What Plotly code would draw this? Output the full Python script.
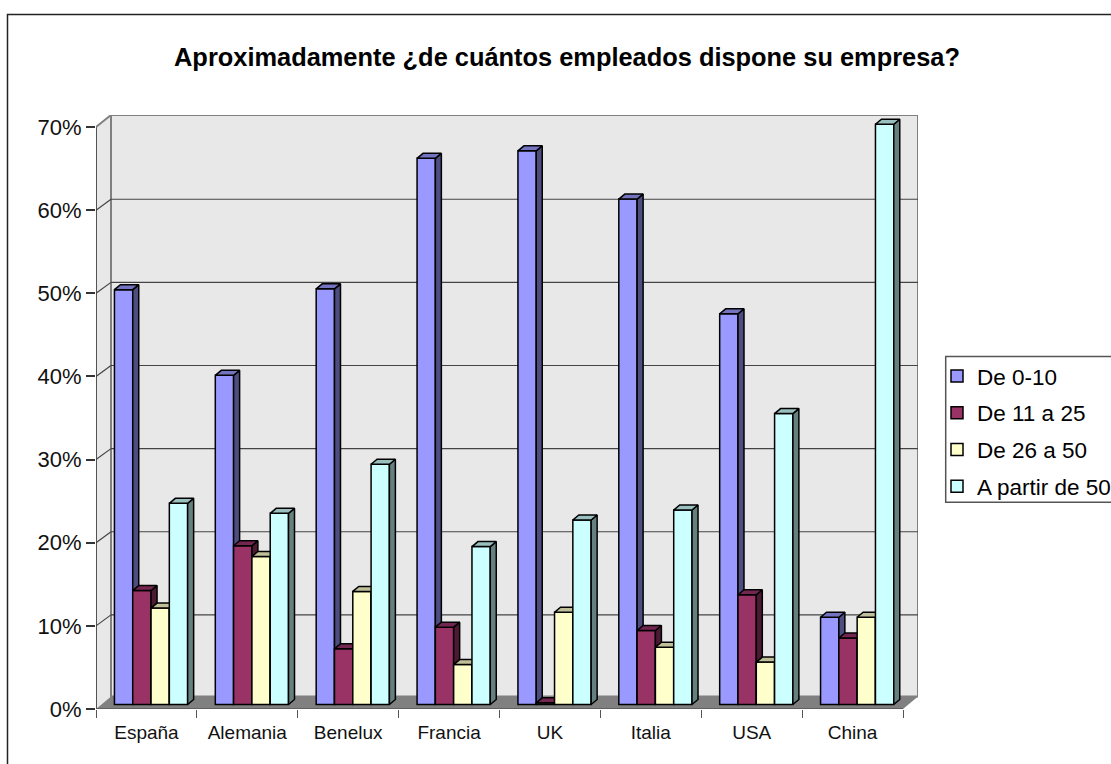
import plotly.graph_objects as go

categories = ['España', 'Alemania', 'Benelux', 'Francia', 'UK', 'Italia', 'USA', 'China']
series_names = ['De 0-10', 'De 11 a 25', 'De 26 a 50', 'A partir de 50']
de_0_10 = [49.9, 39.6, 50.0, 65.7, 66.6, 60.8, 47.0, 10.5]
de_11_25 = [13.7, 19.1, 6.7, 9.3, 0.2, 8.9, 13.2, 8.0]
de_26_50 = [11.6, 17.8, 13.6, 4.8, 11.1, 6.9, 5.1, 10.5]
a_partir_50 = [24.2, 23.0, 28.9, 19.0, 22.2, 23.4, 35.0, 69.8]
y_ticks = [0, 10, 20, 30, 40, 50, 60, 70]

series_values = [de_0_10, de_11_25, de_26_50, a_partir_50]
front_colors = ['#9999FF', '#993366', '#FFFFCC', '#CCFFFF']
side_colors = ['#4D4D80', '#4D1A33', '#808066', '#668080']
top_colors = ['#7373BF', '#732650', '#BFBF99', '#99BFBF']

# plot area in pixels of the 1111x764 page
W, H = 1111, 764
LEFT, RIGHT, TOP, BOTTOM = 96, 918, 115, 709.5
PX_PER_CAT = 100.875
PX_PER_PCT = 8.32

x_range = (RIGHT - LEFT) / PX_PER_CAT
y_range = (BOTTOM - TOP) / PX_PER_PCT

# depth of the wall and of the bars, in axis units
wall_dx = 15 / PX_PER_CAT
wall_dy = 12.5 / PX_PER_PCT
grid_dy = 11 / PX_PER_PCT
bar_dx = 6 / PX_PER_CAT
bar_dy = 5 / PX_PER_PCT
bar_w = 18.3 / PX_PER_CAT
bar_base = 4.5 / PX_PER_PCT
group_shift = 4.6 / PX_PER_CAT


def paper_x(px):
    return (px - LEFT) / (RIGHT - LEFT)


def paper_y(px):
    return (BOTTOM - px) / (BOTTOM - TOP)


def polygons(rings):
    xs, ys = [], []
    for ring in rings:
        xs += [p[0] for p in ring] + [ring[0][0], None]
        ys += [p[1] for p in ring] + [ring[0][1], None]
    return xs, ys


fig = go.Figure()

for k, values in enumerate(series_values):
    yname = 'y' if k == 0 else 'y%d' % (k + 1)
    xpos = [i + 0.5 + group_shift + (k - 1.5) * bar_w for i in range(len(categories))]
    fig.add_trace(go.Bar(x=xpos, y=values, base=bar_base, width=bar_w, yaxis=yname,
                         name=series_names[k], legendgroup=series_names[k],
                         marker=dict(color=front_colors[k], line=dict(color='#000000', width=1.5)),
                         customdata=categories,
                         hovertemplate='%{customdata}: %{y}%<extra>' + series_names[k] + '</extra>'))

    side, top = [], []
    for x, v in zip(xpos, values):
        x1 = x + bar_w / 2
        x0 = x - bar_w / 2
        y1 = bar_base + v
        side.append([(x1, bar_base), (x1 + bar_dx, bar_base + bar_dy),
                     (x1 + bar_dx, y1 + bar_dy), (x1, y1)])
        top.append([(x0, y1), (x0 + bar_dx, y1 + bar_dy), (x1 + bar_dx, y1 + bar_dy), (x1, y1)])
    for rings, color in ((side, side_colors[k]), (top, top_colors[k])):
        xs, ys = polygons(rings)
        fig.add_trace(go.Scatter(x=xs, y=ys, yaxis=yname, mode='lines', fill='toself',
                                 fillcolor=color, line=dict(color='#000000', width=1.5),
                                 showlegend=False, hoverinfo='skip'))

shapes = [
    # walls and floor
    dict(type='path', layer='below', line=dict(width=0), fillcolor='#E8E8E8',
         path='M 0 0 L %f %f L %f %f L 0 70 Z' % (wall_dx, wall_dy, wall_dx, y_range)),
    dict(type='rect', layer='below', x0=wall_dx, x1=x_range, y0=wall_dy, y1=y_range,
         line=dict(color='#808080', width=2), fillcolor='#E8E8E8'),
    dict(type='path', layer='below', line=dict(width=0), fillcolor='#808080',
         path='M 0 0 L %f %f L %f %f L 8 0 Z' % (wall_dx, wall_dy, x_range, wall_dy)),
    # axis lines
    dict(type='line', layer='below', x0=0, x1=0, y0=0, y1=70, line=dict(color='#222222', width=1.5)),
    dict(type='line', layer='below', x0=0, x1=8, y0=0, y1=0, line=dict(color='#555555', width=1.5)),
    dict(type='line', layer='below', x0=0, x1=wall_dx, y0=70, y1=y_range, line=dict(color='#808080', width=2)),
    # outer frame, runs off the page on the right and at the bottom
    dict(type='rect', xref='paper', yref='paper', layer='below',
         x0=paper_x(7.5), x1=paper_x(W + 20), y0=paper_y(14.5), y1=paper_y(H + 20),
         line=dict(color='#222222', width=1.5)),
    # legend box
    dict(type='rect', xref='paper', yref='paper', layer='below',
         x0=paper_x(945.7), x1=paper_x(W + 20), y0=paper_y(356.7), y1=paper_y(502.7),
         line=dict(color='#555555', width=1.5)),
]
for t in y_ticks[1:-1]:
    shapes.append(dict(type='line', layer='below', x0=0, x1=wall_dx, y0=t, y1=t + grid_dy,
                       line=dict(color='#444444', width=1.2)))
    shapes.append(dict(type='line', layer='below', x0=wall_dx, x1=x_range, y0=t + grid_dy, y1=t + grid_dy,
                       line=dict(color='#444444', width=1.2)))

font = 'Liberation Sans'
fig.update_layout(
    width=W, height=H, autosize=False,
    margin=dict(l=LEFT, r=W - RIGHT, t=TOP, b=H - BOTTOM, pad=0, autoexpand=False),
    paper_bgcolor='white', plot_bgcolor='rgba(0,0,0,0)',
    font=dict(family=font, color='#000000'),
    title=dict(text='<b>Aproximadamente ¿de cuántos empleados dispone su empresa?</b>',
               font=dict(family=font, size=25.4, color='#000000'),
               xref='paper', x=paper_x(567), xanchor='center',
               yref='container', y=1 - 57 / H, yanchor='middle'),
    showlegend=True,
    legend=dict(x=paper_x(937), xanchor='left', y=paper_y(355), yanchor='top',
                borderwidth=0, bgcolor='rgba(0,0,0,0)', font=dict(family=font, size=22.5),
                itemwidth=30, tracegroupgap=4.5, traceorder='grouped'),
    xaxis=dict(range=[0, x_range], showgrid=False, zeroline=False, showline=False,
               tickmode='array', tickvals=[i + 0.5 for i in range(len(categories))],
               ticktext=categories, ticks='outside', ticklen=6, tickcolor='rgba(0,0,0,0)',
               tickfont=dict(family=font, size=19, color='#111111'),
               minor=dict(tickmode='array', tickvals=list(range(len(categories) + 1)),
                          ticks='outside', ticklen=8, tickcolor='#555555', tickwidth=1.2, showgrid=False)),
    yaxis=dict(range=[0, y_range], showgrid=False, zeroline=False, showline=False,
               tickmode='array', tickvals=y_ticks, ticktext=['%d%%' % t for t in y_ticks],
               ticks='outside', ticklen=9, tickcolor='#333333', tickwidth=1.5,
               tickfont=dict(family=font, size=22, color='#111111')),
    shapes=shapes,
)
for name in ('yaxis2', 'yaxis3', 'yaxis4'):
    fig.update_layout({name: dict(overlaying='y', range=[0, y_range], visible=False)})

# the reference frame sits inside the browser's default 8px body margin
fig.write_html("out.html", config=dict(displayModeBar=False),
               post_script="document.body.style.margin='0';")
